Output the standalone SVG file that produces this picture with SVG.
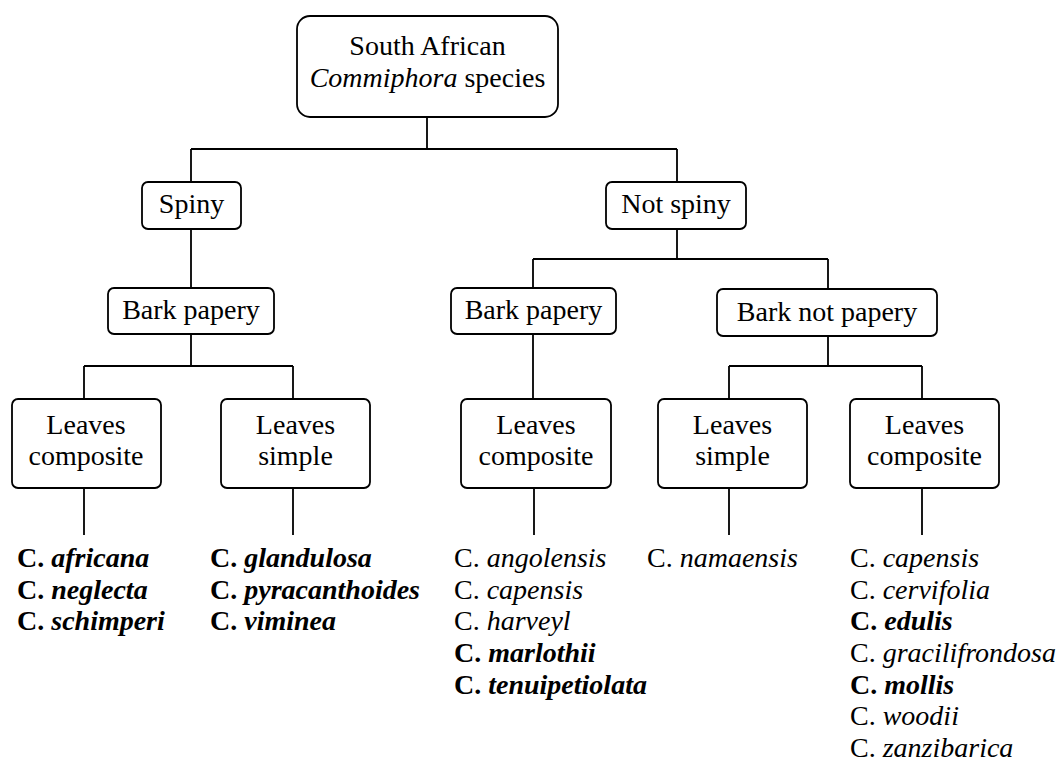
<svg xmlns="http://www.w3.org/2000/svg" width="1058" height="766" viewBox="0 0 1058 766">
<style>
.box{fill:#fff;stroke:#000;stroke-width:1.8}
.t{font-family:"Liberation Serif","Times New Roman",serif;font-size:28px;fill:#000}
.c{text-anchor:middle}
.i{font-style:italic}
.b{font-weight:bold}
.conn{fill:none;stroke:#000;stroke-width:1.8}
</style>
<rect width="1058" height="766" fill="#fff"/>
<g id="connectors" class="conn">
<path d="M427 117V149M191 149H677M191 149V182M677 149V182"/>
<path d="M191 229V288M191 334V366M84 366H293M84 366V399M293 366V399"/>
<path d="M677 229V259M533 259H828M533 259V288M828 259V289"/>
<path d="M533 334V399M828 336V366M729 366H922M729 366V399M922 366V399"/>
<path d="M84 488V535M293 488V535M534 488V535M729 488V535M922 488V535"/>
</g>
<g id="root">
<rect class="box" x="297" y="16" width="261" height="101" rx="13"/>
<text class="t c" x="427.5" y="55">South African</text>
<text class="t c" x="427.5" y="87"><tspan class="i">Commiphora</tspan> species</text>
</g>
<g id="spiny">
<rect class="box" x="142" y="182" width="99" height="47" rx="6"/>
<text class="t c" x="191.5" y="213">Spiny</text>
</g>
<g id="notspiny">
<rect class="box" x="606" y="182" width="140" height="47" rx="6"/>
<text class="t c" x="676" y="213">Not spiny</text>
</g>
<g id="barkpapery1">
<rect class="box" x="108" y="288" width="166" height="46" rx="6"/>
<text class="t c" x="191" y="319">Bark papery</text>
</g>
<g id="barkpapery2">
<rect class="box" x="451" y="288" width="165" height="46" rx="6"/>
<text class="t c" x="533.5" y="319">Bark papery</text>
</g>
<g id="barknotpapery">
<rect class="box" x="717" y="289" width="220" height="47" rx="6"/>
<text class="t c" x="827" y="321">Bark not papery</text>
</g>
<g id="leaves1">
<rect class="box" x="12" y="399" width="149" height="89" rx="6"/>
<text class="t c" x="86" y="434">Leaves</text>
<text class="t c" x="86" y="465">composite</text>
</g>
<g id="leaves2">
<rect class="box" x="221" y="399" width="149" height="89" rx="6"/>
<text class="t c" x="295.5" y="434">Leaves</text>
<text class="t c" x="295.5" y="465">simple</text>
</g>
<g id="leaves3">
<rect class="box" x="461" y="399" width="150" height="89" rx="6"/>
<text class="t c" x="536" y="434">Leaves</text>
<text class="t c" x="536" y="465">composite</text>
</g>
<g id="leaves4">
<rect class="box" x="658" y="399" width="149" height="89" rx="6"/>
<text class="t c" x="732.5" y="434">Leaves</text>
<text class="t c" x="732.5" y="465">simple</text>
</g>
<g id="leaves5">
<rect class="box" x="850" y="399" width="149" height="89" rx="6"/>
<text class="t c" x="924.5" y="434">Leaves</text>
<text class="t c" x="924.5" y="465">composite</text>
</g>
<g id="species1" class="t b">
<text x="17" y="567">C. <tspan class="i">africana</tspan></text>
<text x="17" y="599">C. <tspan class="i">neglecta</tspan></text>
<text x="17" y="630">C. <tspan class="i">schimperi</tspan></text>
</g>
<g id="species2" class="t b">
<text x="210" y="567">C. <tspan class="i">glandulosa</tspan></text>
<text x="210" y="599">C. <tspan class="i">pyracanthoides</tspan></text>
<text x="210" y="630">C. <tspan class="i">viminea</tspan></text>
</g>
<g id="species3" class="t">
<text x="454" y="567">C. <tspan class="i">angolensis</tspan></text>
<text x="454" y="599">C. <tspan class="i">capensis</tspan></text>
<text x="454" y="630">C. <tspan class="i">harveyl</tspan></text>
<text x="454" y="662" class="b">C. <tspan class="i">marlothii</tspan></text>
<text x="454" y="694" class="b">C. <tspan class="i">tenuipetiolata</tspan></text>
</g>
<g id="species4" class="t">
<text x="647" y="567">C. <tspan class="i">namaensis</tspan></text>
</g>
<g id="species5" class="t">
<text x="850" y="567">C. <tspan class="i">capensis</tspan></text>
<text x="850" y="599">C. <tspan class="i">cervifolia</tspan></text>
<text x="850" y="630" class="b">C. <tspan class="i">edulis</tspan></text>
<text x="850" y="662">C. <tspan class="i">gracilifrondosa</tspan></text>
<text x="850" y="694" class="b">C. <tspan class="i">mollis</tspan></text>
<text x="850" y="725">C. <tspan class="i">woodii</tspan></text>
<text x="850" y="757">C. <tspan class="i">zanzibarica</tspan></text>
</g>
</svg>
